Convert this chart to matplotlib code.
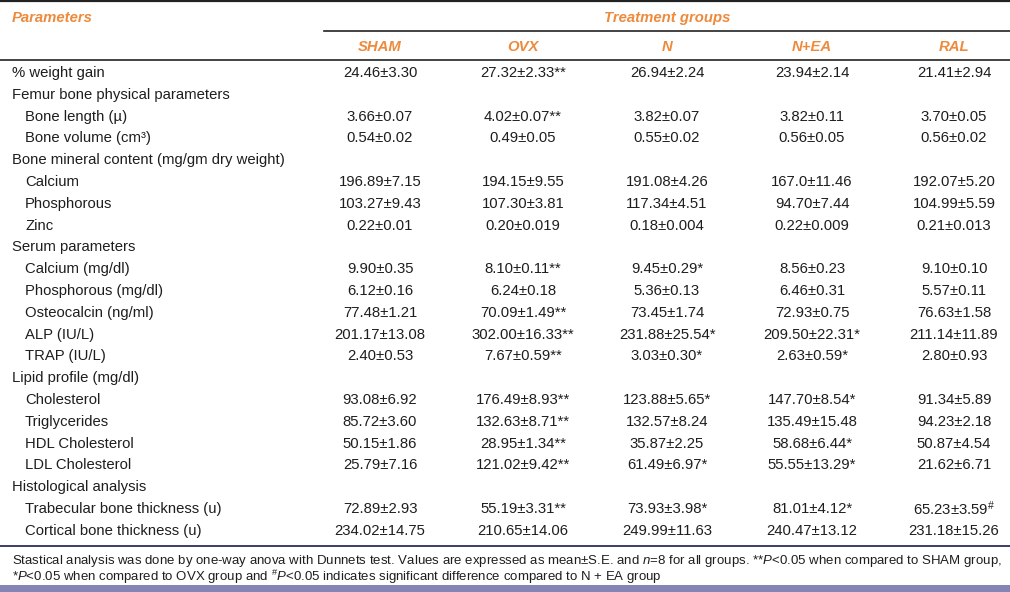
import matplotlib
matplotlib.use("Agg")
import matplotlib.pyplot as plt

plt.rcParams['font.family'] = ['Liberation Sans', 'DejaVu Sans']
plt.rcParams['mathtext.fontset'] = 'custom'
plt.rcParams['mathtext.rm'] = 'Liberation Sans'
plt.rcParams['mathtext.it'] = 'Liberation Sans:italic'

groups = ["SHAM", "OVX", "N", "N+EA", "RAL"]

# (label, indented)
params = [
    ("% weight gain", False),
    ("Femur bone physical parameters", False),
    ("Bone length (\u00b5)", True),
    ("Bone volume (cm\u00b3)", True),
    ("Bone mineral content (mg/gm dry weight)", False),
    ("Calcium", True),
    ("Phosphorous", True),
    ("Zinc", True),
    ("Serum parameters", False),
    ("Calcium (mg/dl)", True),
    ("Phosphorous (mg/dl)", True),
    ("Osteocalcin (ng/ml)", True),
    ("ALP (IU/L)", True),
    ("TRAP (IU/L)", True),
    ("Lipid profile (mg/dl)", False),
    ("Cholesterol", True),
    ("Triglycerides", True),
    ("HDL Cholesterol", True),
    ("LDL Cholesterol", True),
    ("Histological analysis", False),
    ("Trabecular bone thickness (u)", True),
    ("Cortical bone thickness (u)", True),
]

sham = ["24.46±3.30", "", "3.66±0.07", "0.54±0.02", "", "196.89±7.15", "103.27±9.43",
        "0.22±0.01", "", "9.90±0.35", "6.12±0.16", "77.48±1.21", "201.17±13.08",
        "2.40±0.53", "", "93.08±6.92", "85.72±3.60", "50.15±1.86", "25.79±7.16", "",
        "72.89±2.93", "234.02±14.75"]
ovx = ["27.32±2.33**", "", "4.02±0.07**", "0.49±0.05", "", "194.15±9.55", "107.30±3.81",
       "0.20±0.019", "", "8.10±0.11**", "6.24±0.18", "70.09±1.49**", "302.00±16.33**",
       "7.67±0.59**", "", "176.49±8.93**", "132.63±8.71**", "28.95±1.34**",
       "121.02±9.42**", "", "55.19±3.31**", "210.65±14.06"]
n_grp = ["26.94±2.24", "", "3.82±0.07", "0.55±0.02", "", "191.08±4.26", "117.34±4.51",
         "0.18±0.004", "", "9.45±0.29*", "5.36±0.13", "73.45±1.74", "231.88±25.54*",
         "3.03±0.30*", "", "123.88±5.65*", "132.57±8.24", "35.87±2.25", "61.49±6.97*",
         "", "73.93±3.98*", "249.99±11.63"]
n_ea = ["23.94±2.14", "", "3.82±0.11", "0.56±0.05", "", "167.0±11.46", "94.70±7.44",
        "0.22±0.009", "", "8.56±0.23", "6.46±0.31", "72.93±0.75", "209.50±22.31*",
        "2.63±0.59*", "", "147.70±8.54*", "135.49±15.48", "58.68±6.44*", "55.55±13.29*",
        "", "81.01±4.12*", "240.47±13.12"]
ral = ["21.41±2.94", "", "3.70±0.05", "0.56±0.02", "", "192.07±5.20", "104.99±5.59",
       "0.21±0.013", "", "9.10±0.10", "5.57±0.11", "76.63±1.58", "211.14±11.89",
       "2.80±0.93", "", "91.34±5.89", "94.23±2.18", "50.87±4.54", "21.62±6.71", "",
       "65.23±3.59$^{\\#}$", "231.18±15.26"]

footnote = [
    "Stastical analysis was done by one-way anova with Dunnets test. Values are expressed as "
    "mean±S.E. and $n$=8 for all groups. **$P$<0.05 when compared to SHAM group,",
    "*$P$<0.05 when compared to OVX group and $^{\\#}P$<0.05 indicates significant "
    "difference compared to N + EA group",
]

orange = "#ED8A3C"
ink = "#1e1e1e"
W, H = 1010, 592
fig = plt.figure(figsize=(W / 100, H / 100), dpi=100)
ax = fig.add_axes([0, 0, 1, 1])
ax.set_xlim(0, W)
ax.set_ylim(H, 0)
ax.axis("off")

fs = 10.7
col_x = [380, 523, 667, 812, 954]

# header
ax.axhline(0.8, color="#222222", lw=1.6)
ax.text(12, 18, "Parameters", color=orange, fontsize=fs, fontweight="bold",
        style="italic", va="center")
ax.text(667, 18, "Treatment groups", color=orange, fontsize=fs, fontweight="bold",
        style="italic", va="center", ha="center")
ax.plot([324, W], [30.5, 30.5], color="#222222", lw=1.2)
for x, g in zip(col_x, groups):
    ax.text(x, 47, g, color=orange, fontsize=fs, fontweight="bold", style="italic",
            va="center", ha="center")
ax.axhline(59.5, color="#222222", lw=1.2)

# body
y0, dy = 73, 21.8
cols = [sham, ovx, n_grp, n_ea, ral]
for i, (label, indent) in enumerate(params):
    y = y0 + i * dy
    ax.text(25 if indent else 12, y, label, fontsize=fs, va="center", color=ink)
    for x, col in zip(col_x, cols):
        if col[i]:
            ax.text(x, y, col[i], fontsize=fs, va="center", ha="center", color=ink)

ax.axhline(546, color="#1c1c4a", lw=1.2)
for j, line in enumerate(footnote):
    ax.text(12, 561 + j * 15.5, line, fontsize=9.5, va="center", color=ink)

ax.axhspan(585, H, color="#8585B5", lw=0)

fig.savefig("out.png", dpi=100)
